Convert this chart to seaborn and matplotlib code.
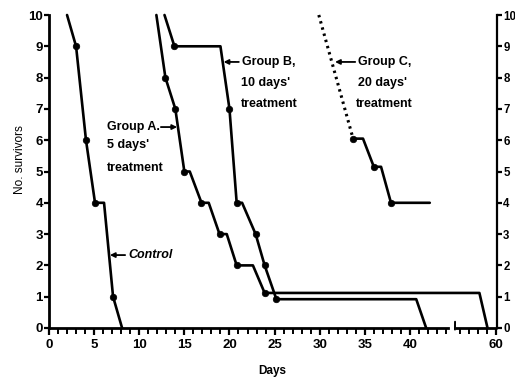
import numpy as np
import pandas as pd
import matplotlib
matplotlib.use("Agg")
import matplotlib.pyplot as plt
from matplotlib.ticker import FixedLocator
import seaborn as sns

# ---------------- data ----------------
control_days = [2.0, 3.0, 4.1, 5.1, 6.1, 7.1, 8.1]
control_surv = [10, 9, 6, 4, 4, 1, 0]
control_dot = [0, 1, 1, 1, 0, 1, 0]

groupA_days = [11.9, 12.9, 14.0, 15.0, 15.6, 16.9, 17.7, 18.9, 19.7, 20.8, 22.6, 23.9, 58.2, 59.1]
groupA_surv = [10, 8, 7, 5, 5, 4, 4, 3, 3, 2, 2, 1.12, 1.12, 0]
groupA_dot = [0, 1, 1, 1, 0, 1, 0, 1, 0, 1, 0, 1, 0, 0]

groupB_days = [12.8, 13.9, 19.0, 20.0, 20.8, 21.4, 22.9, 23.9, 25.2, 40.7, 41.8]
groupB_surv = [10, 9, 9, 7, 4, 4, 3, 2, 0.92, 0.92, 0]
groupB_dot = [0, 1, 0, 1, 1, 0, 1, 1, 1, 0, 0]

groupC_dotted_days = [29.9, 33.7]
groupC_dotted_surv = [10, 6.05]
groupC_days = [33.7, 34.8, 36.0, 36.8, 37.9, 42.2]
groupC_surv = [6.05, 6.05, 5.15, 5.15, 4.0, 4.0]
groupC_dot = [1, 0, 1, 0, 1, 0]

x_major = [0, 5, 10, 15, 20, 25, 30, 35, 40, 60]
y_ticks = list(range(0, 11))

# ---------------- style ----------------
sns.set_style("ticks")
plt.rcParams['font.family'] = ['Liberation Sans', 'DejaVu Sans']
plt.rcParams['font.weight'] = 'bold'
for k in ['text.color', 'axes.labelcolor', 'xtick.color', 'ytick.color', 'axes.edgecolor']:
    plt.rcParams[k] = 'black'

fig = plt.figure(figsize=(5.15, 3.83), dpi=100)
ax = fig.add_axes([49/515, 1-328/383, (497-49)/515, (328-15)/383])

LW = 1.9
def draw(days, surv, dots, dashed=False):
    df = pd.DataFrame({"day": days, "n": surv})
    kw = dict(color="black", linewidth=LW, sort=False, estimator=None, ax=ax, legend=False)
    if dashed:
        kw.update(linewidth=2.2)
        sns.lineplot(data=df, x="day", y="n", **kw)
        ax.lines[-1].set_linestyle((0, (0.8, 1.3)))
    else:
        sns.lineplot(data=df, x="day", y="n", **kw)
    ax.lines[-1].set_clip_on(False)
    if dots is not None:
        d = df[np.array(dots) == 1]
        sns.scatterplot(data=d, x="day", y="n", color="black", s=22, edgecolor="black",
                        linewidth=0.5, ax=ax, legend=False, zorder=3, clip_on=False)

draw(control_days, control_surv, control_dot)
draw(groupA_days, groupA_surv, groupA_dot)
draw(groupB_days, groupB_surv, groupB_dot)
draw(groupC_dotted_days, groupC_dotted_surv, None, dashed=True)
draw(groupC_days, groupC_surv, groupC_dot)

# ---------------- broken x scale ----------------
def fwd(x):
    x = np.asarray(x, dtype=float)
    return np.where(x <= 44.5, x,
                    np.where(x >= 55.5, x - 10.5, 44.5 + (x - 44.5) * (0.5 / 11.0)))

def inv(p):
    p = np.asarray(p, dtype=float)
    return np.where(p <= 44.5, p,
                    np.where(p >= 45.0, p + 10.5, 44.5 + (p - 44.5) * 22.0))

X_END = 60.15
ax.set_xscale('function', functions=(fwd, inv))
ax.set_xlim(0, X_END)
ax.set_ylim(0, 10)

minor = [d for d in range(1, 45) if d % 5 != 0] + [56, 57, 58, 59]
ax.xaxis.set_major_locator(FixedLocator(x_major))
ax.xaxis.set_minor_locator(FixedLocator(minor))
ax.set_xticklabels([str(v) for v in x_major])
ax.yaxis.set_major_locator(FixedLocator(y_ticks))
ax.set_yticklabels([str(v) for v in y_ticks])

ax.tick_params(axis='x', which='major', direction='out', length=5, width=1.6,
               labelsize=9.5, pad=3)
ax.tick_params(axis='x', which='minor', direction='out', length=4, width=1.4)
ax.tick_params(axis='y', which='major', direction='out', length=3.5, width=1.6,
               labelsize=9.5, pad=1, left=True, right=True, labelleft=True, labelright=True)
for lbl in ax.get_xticklabels() + ax.get_yticklabels():
    lbl.set_fontweight('bold')
for t in ax.yaxis.get_major_ticks():
    t.label2.set_fontsize(8.3)
    t.label2.set_fontweight('bold')

for s in ['left', 'bottom']:
    ax.spines[s].set_linewidth(2.0)
ax.spines['right'].set_linewidth(1.6)
ax.spines['right'].set_visible(True)
ax.spines['top'].set_visible(False)
ax.spines['bottom'].set_bounds(0, 44.2)
# second piece of the broken bottom axis and the break mark
ax.plot([55.4, X_END], [0, 0], color='black', lw=2.0, clip_on=False, solid_capstyle='butt')
ax.plot([55.3, 55.5], [-0.05, 0.2], color='black', lw=1.4, clip_on=False)

ax.set_xlabel("Days", fontsize=8.5, fontweight='bold', va='center')
ax.xaxis.set_label_coords((272-49)/448, (328-371)/313)
ax.set_ylabel("No. survivors", fontsize=8.5, fontweight='normal', va='center')
ax.yaxis.set_label_coords((20-49)/448, (328-160)/313)

# ---------------- annotations ----------------
ap = dict(arrowstyle='-|>', color='black', lw=1.3, shrinkA=0, shrinkB=0, mutation_scale=7)
fs = 9

ax.annotate("Control", xy=(6.75, 2.33), xytext=(8.8, 2.33), ha='left', va='center',
            fontsize=fs, fontweight='bold', fontstyle='italic', arrowprops=ap)

ax.text(6.4, 6.42, "Group A.", ha='left', va='center', fontsize=fs, fontweight='bold')
ax.annotate("", xy=(14.2, 6.42), xytext=(12.4, 6.42), arrowprops=ap)
ax.text(6.4, 5.85, "5 days'", ha='left', va='center', fontsize=fs, fontweight='bold')
ax.text(6.4, 5.12, "treatment", ha='left', va='center', fontsize=fs, fontweight='bold')

ax.annotate("Group B,", xy=(19.35, 8.5), xytext=(21.4, 8.5), ha='left', va='center',
            fontsize=fs, fontweight='bold', arrowprops=ap)
ax.text(21.3, 7.83, "10 days'", ha='left', va='center', fontsize=fs, fontweight='bold')
ax.text(21.3, 7.15, "treatment", ha='left', va='center', fontsize=fs, fontweight='bold')

ax.annotate("Group C,", xy=(31.7, 8.5), xytext=(34.3, 8.5), ha='left', va='center',
            fontsize=fs, fontweight='bold', arrowprops=ap)
ax.text(34.2, 7.83, "20 days'", ha='left', va='center', fontsize=fs, fontweight='bold')
ax.text(34.0, 7.15, "treatment", ha='left', va='center', fontsize=fs, fontweight='bold')

fig.savefig("out.png", dpi=100, facecolor='white')
